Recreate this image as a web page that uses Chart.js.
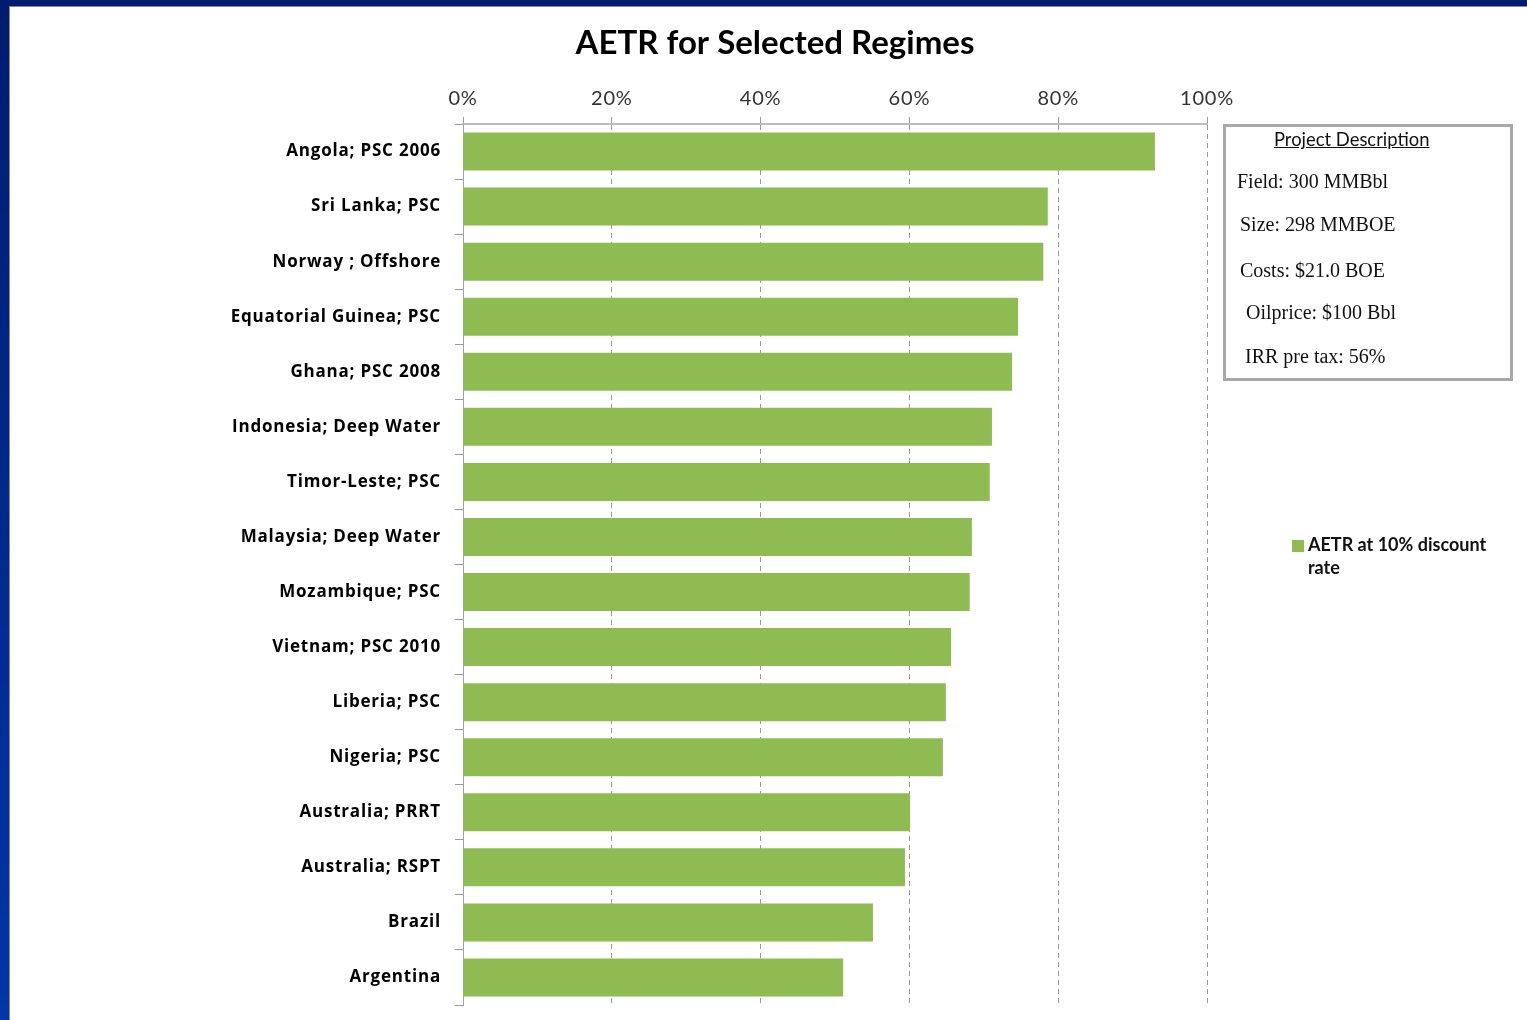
<!DOCTYPE html>
<html lang="en">
<head>
    <meta charset="UTF-8">
    <title>AETR for Selected Regimes</title>
    <script src="https://cdn.jsdelivr.net/npm/chart.js"></script>
    <style>
        body {
            margin: 0;
            width: 1527px;
            height: 1020px;
            overflow: hidden;
            background: linear-gradient(to bottom, #001c70, #0036a8);
            font-family: 'Lato', sans-serif;
        }
        .slide {
            position: absolute;
            left: 9px;
            top: 6px;
            right: 0;
            bottom: 0;
            background: #ffffff;
            border-left: 1px solid #8a8a8a;
            border-top: 1px solid #8a8a8a;
        }
        #chartBox {
            position: absolute;
            left: 10px;
            top: 7px;
            width: 1517px;
            height: 1013px;
        }
        .project-box {
            position: absolute;
            left: 1223px;
            top: 124px;
            width: 284px;
            height: 251px;
            border: 3px solid #a8a8a8;
            font-family: 'Liberation Serif', serif;
            font-size: 20px;
            color: #111;
        }
        .project-box div {
            position: absolute;
            white-space: nowrap;
            line-height: 22px;
        }
        .project-box .head {
            font-family: 'Lato', sans-serif;
            font-size: 18.4px;
            text-decoration: underline;
            left: 48px;
            top: 1px;
        }
        .legend {
            position: absolute;
            left: 1292px;
            top: 533px;
            font-weight: bold;
            font-size: 18px;
            line-height: 23px;
            color: #111;
        }
        .legend .swatch {
            position: absolute;
            left: 0;
            top: 7px;
            width: 12px;
            height: 12px;
            background: #8ebc53;
        }
        .legend .text {
            margin-left: 16px;
        }
    </style>
</head>
<body>

    <div class="slide"></div>
    <div id="chartBox"><canvas id="aetrChart"></canvas></div>

    <div class="project-box">
        <div class="head">Project Description</div>
        <div style="left: 11px; top: 43px;">Field: 300 MMBbl</div>
        <div style="left: 14px; top: 86px;">Size: 298 MMBOE</div>
        <div style="left: 14px; top: 132px;">Costs: $21.0 BOE</div>
        <div style="left: 20px; top: 174px;">Oilprice: $100 Bbl</div>
        <div style="left: 19px; top: 218px;">IRR pre tax: 56%</div>
    </div>

    <div class="legend">
        <span class="swatch"></span>
        <div class="text">AETR at 10% discount<br>rate</div>
    </div>

    <script>
        // Regimes and their AETR (10% discount rate)
        const regimes = [
            'Angola; PSC 2006', 'Sri Lanka; PSC', 'Norway ; Offshore', 'Equatorial Guinea; PSC',
            'Ghana; PSC 2008', 'Indonesia; Deep Water', 'Timor-Leste; PSC', 'Malaysia; Deep Water',
            'Mozambique; PSC', 'Vietnam; PSC 2010', 'Liberia; PSC', 'Nigeria; PSC',
            'Australia; PRRT', 'Australia; RSPT', 'Brazil', 'Argentina'
        ];
        const aetrValues = [
            0.930, 0.786, 0.780, 0.746,
            0.738, 0.711, 0.708, 0.684,
            0.681, 0.656, 0.649, 0.645,
            0.601, 0.594, 0.551, 0.511
        ];
        const seriesName = 'AETR at 10% discount rate';
        const chartTitle = 'AETR for Selected Regimes';

        // slightly looser letter spacing for axis labels (closer to the original)
        const spacingPlugin = {
            id: 'labelSpacing',
            beforeDraw(chart) {
                chart.ctx.letterSpacing = '0.8px';
            }
        };

        // draws the title centred over the whole slide, not just the plot
        const titlePlugin = {
            id: 'slideTitle',
            afterDraw(chart) {
                const ctx = chart.ctx;
                ctx.save();
                ctx.letterSpacing = '0px';
                ctx.font = 'bold 33px Lato';
                ctx.fillStyle = '#000';
                ctx.textAlign = 'center';
                ctx.textBaseline = 'middle';
                ctx.fillText(chartTitle, 765, 36);
                ctx.restore();
            }
        };

        document.addEventListener('DOMContentLoaded', function () {
            var ctx = document.getElementById('aetrChart').getContext('2d');
            var aetrChart = new Chart(ctx, {
                type: 'bar',
                data: {
                    labels: regimes,
                    datasets: [{
                        label: seriesName,
                        data: aetrValues,
                        backgroundColor: '#8ebc53',
                        borderWidth: 0,
                        categoryPercentage: 1.0,
                        barPercentage: 0.69
                    }]
                },
                options: {
                    indexAxis: 'y',
                    responsive: true,
                    maintainAspectRatio: false,
                    animation: false,
                    layout: {
                        padding: { top: 0, right: 320, bottom: 15, left: 0 }
                    },
                    plugins: {
                        legend: { display: false },
                        title: { display: false },
                        tooltip: { enabled: false }
                    },
                    scales: {
                        x: {
                            position: 'top',
                            min: 0,
                            max: 1,
                            ticks: {
                                stepSize: 0.2,
                                padding: 6,
                                color: '#333',
                                font: { family: 'Lato', size: 20 },
                                callback: function (v) { return Math.round(v * 100) + '%'; }
                            },
                            grid: {
                                color: '#9a9a9a',
                                tickColor: '#9a9a9a',
                                tickLength: 7,
                                lineWidth: 1
                            },
                            border: { color: '#bdbdbd', width: 2, dash: [5, 4] },
                            afterFit: function (scale) { scale.height = 117; }
                        },
                        y: {
                            ticks: {
                                padding: 14,
                                color: '#000',
                                font: { family: 'Open Sans', size: 17, weight: 'bold' }
                            },
                            grid: {
                                drawOnChartArea: false,
                                tickColor: '#9a9a9a',
                                tickLength: 8
                            },
                            border: { color: '#a0a0a0', width: 1 },
                            afterFit: function (scale) {
                                scale.width = 453;
                                scale.paddingTop = 0;
                                scale.paddingBottom = 0;
                            }
                        }
                    }
                },
                plugins: [spacingPlugin, titlePlugin]
            });
        });
    </script>
</body>
</html>
